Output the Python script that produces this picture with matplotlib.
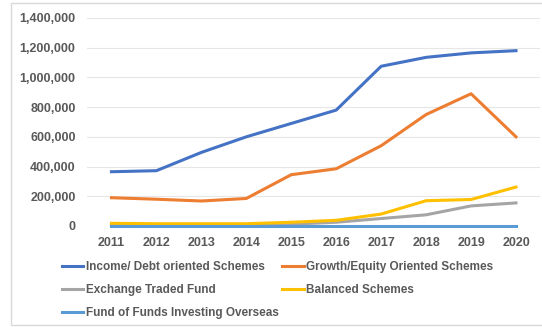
import numpy as np
import matplotlib.pyplot as plt
from matplotlib.patches import Rectangle
from matplotlib.ticker import FuncFormatter

plt.rcParams['font.family'] = ['Liberation Sans', 'DejaVu Sans']

years = [2011, 2012, 2013, 2014, 2015, 2016, 2017, 2018, 2019, 2020]
income_debt = [365000, 372000, 495000, 600000, 690000, 780000, 1075000, 1135000, 1165000, 1180000]
growth_equity = [190000, 180000, 168000, 185000, 345000, 385000, 540000, 750000, 890000, 600000]
etf = [5000, 6000, 7000, 8000, 12000, 25000, 50000, 75000, 135000, 155000]
balanced = [18000, 15000, 15000, 15000, 25000, 38000, 80000, 170000, 178000, 262000]
fund_of_funds = [2000, 2000, 2000, 2000, 2000, 2000, 2000, 2000, 2000, 2000]

series = [
    ('Income/ Debt oriented Schemes', income_debt, '#4472C4'),
    ('Growth/Equity Oriented Schemes', growth_equity, '#ED7D31'),
    ('Exchange Traded Fund', etf, '#A5A5A5'),
    ('Balanced Schemes', balanced, '#FFC000'),
    ('Fund of Funds Investing Overseas', fund_of_funds, '#5B9BD5'),
]

fig = plt.figure(figsize=(5.42, 3.27), dpi=100)
# thin frame around the chart area
fig.patches.append(Rectangle((0.02, 0.006), 0.99, 0.985, transform=fig.transFigure,
                             fill=False, edgecolor='#d9d9d9', linewidth=1.0))

ax = fig.add_axes([0.16, 0.309, 0.836, 0.636])
x = np.arange(len(years))
lines = {}
for name, vals, col in series:
    lines[name], = ax.plot(x, vals, color=col, linewidth=2.2, label=name, clip_on=False, zorder=3)

ax.set_ylim(0, 1400000)
ax.set_yticks(np.arange(0, 1400001, 200000))
ax.yaxis.set_major_formatter(FuncFormatter(lambda v, p: f'{int(v):,}'))
ax.set_xlim(-0.55, 9.53)
ax.set_xticks(x)
ax.set_xticklabels([str(y) for y in years])
ax.grid(axis='y', color='#e6e6e6', linewidth=0.8)
ax.set_axisbelow(True)
for s in ax.spines.values():
    s.set_visible(False)
ax.tick_params(length=0, labelsize=9, labelcolor='#595959', pad=8)
for lab in ax.get_xticklabels() + ax.get_yticklabels():
    lab.set_fontweight('bold')

# legend is filled column by column, so order for row-wise reading
order = [0, 2, 4, 1, 3]
names = [series[i][0] for i in order]
leg = fig.legend([lines[n] for n in names], names, loc='upper left',
                 bbox_to_anchor=(0.105, 0.215), ncol=2, frameon=False,
                 prop={'size': 8.5, 'weight': 'bold'}, handlelength=1.85, handletextpad=0.2,
                 columnspacing=0.3, labelspacing=0.9, borderaxespad=0)
for t in leg.get_texts():
    t.set_color('#595959')

fig.savefig('out.png', dpi=100)
